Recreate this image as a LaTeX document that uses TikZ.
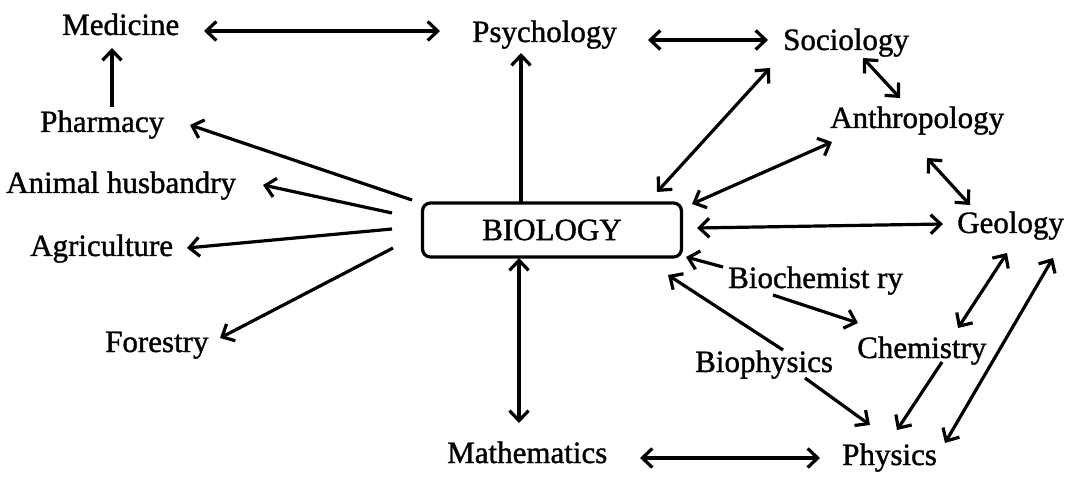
\documentclass[tikz,border=0pt]{standalone}
\usepackage{fontspec}
\setmainfont{Liberation Serif}
\newfontfamily\inkfont{Liberation Serif}[FakeBold=1.2]
\usetikzlibrary{arrows.meta}
\begin{document}
\begin{tikzpicture}[x=1pt,y=-1pt,
  lbl/.style={inner sep=0pt, anchor=base west, font=\inkfont\fontsize{31}{36}\selectfont},
  con/.style={line width=3.2pt, -{Straight Barb[length=10pt,width=19pt]}},
  dcon/.style={line width=3.2pt, {Straight Barb[length=10pt,width=19pt]}-{Straight Barb[length=10pt,width=19pt]}},
  boxnode/.style={draw, line width=3.2pt, rounded corners=8pt, minimum width=259pt,
    minimum height=54pt, inner sep=0pt, font=\inkfont\fontsize{31}{36}\selectfont}]
\useasboundingbox[fill=white] (0,0) rectangle (1073,478);
% nodes
\node[lbl] (med)   at (62,35)   {Medicine};
\node[lbl] (psy)   at (472,42)  {Psychology};
\node[lbl] (soc)   at (783,50)  {Sociology};
\node[lbl] (anth)  at (830,128) {Anthropology};
\node[lbl] (phar)  at (40,132)  {Pharmacy};
\node[lbl] (anim)  at (6,193)   {Animal husbandry};
\node[lbl] (agri)  at (30,256)  {Agriculture};
\node[lbl] (fore)  at (105,352) {Forestry};
\node[lbl] (geo)   at (957,233) {Geology};
\node[lbl] (bchem) at (728,288) {Biochemist ry};
\node[lbl] (chem)  at (857,358) {Chemistry};
\node[lbl] (bphys) at (695,372) {Biophysics};
\node[lbl] (math)  at (447,463) {Mathematics};
\node[lbl] (phys)  at (842,465) {Physics};
\node[boxnode] (bio) at (552,230) {BIOLOGY};
% connectors
\draw[dcon] ([shift={(142,-4)}]med.base west) -- ([shift={(-32,-11)}]psy.base west);
\draw[con]  ([shift={(72,-25)}]phar.base west) -- ([shift={(50,13)}]med.base west);
\draw[dcon] ([shift={(176,-2)}]psy.base west) -- ([shift={(-15,-10)}]soc.base west);
\draw[con]  ([shift={(-31,-27)}]bio.center) -- ([shift={(49,11)}]psy.base west);
\draw[con]  ([shift={(-140,-30)}]bio.center) -- ([shift={(150,-7)}]phar.base west);
\draw[con]  ([shift={(-160,-17)}]bio.center) -- ([shift={(257,-8)}]anim.base west);
\draw[con]  ([shift={(-160,-1)}]bio.center) -- ([shift={(157,-8)}]agri.base west);
\draw[con]  ([shift={(-159,18)}]bio.center) -- ([shift={(115,-14)}]fore.base west);
\draw[dcon] ([shift={(-33,28)}]bio.center) -- ([shift={(72,-40)}]math.base west);
\draw[dcon] ([shift={(105,-38)}]bio.center) -- ([shift={(-13,18)}]soc.base west);
\draw[dcon] ([shift={(140,-26)}]bio.center) -- ([shift={(2,14)}]anth.base west);
\draw[dcon] ([shift={(145,-2)}]bio.center) -- ([shift={(-14,-9)}]geo.base west);
\draw[dcon] ([shift={(80,8)}]soc.base west) -- ([shift={(70,-30)}]anth.base west);
\draw[dcon] ([shift={(97,30)}]anth.base west) -- ([shift={(13,-28)}]geo.base west);
\draw[con]  ([shift={(-5,-21)}]bchem.base west) -- ([shift={(134,27)}]bio.center);
\draw[con]  ([shift={(88,-22)}]bphys.base west) -- ([shift={(116,45)}]bio.center);
\draw[con]  ([shift={(45,7)}]bchem.base west) -- ([shift={(1,-35)}]chem.base west);
\draw[con]  ([shift={(110,6)}]bphys.base west) -- ([shift={(28,-40)}]phys.base west);
\draw[con]  ([shift={(85,4)}]chem.base west) -- ([shift={(55,-35)}]phys.base west);
\draw[dcon] ([shift={(50,20)}]geo.base west) -- ([shift={(101,-30)}]chem.base west);
\draw[dcon] ([shift={(96,25)}]geo.base west) -- ([shift={(103,-22)}]phys.base west);
\draw[dcon] ([shift={(193,-5)}]math.base west) -- ([shift={(-22,-7)}]phys.base west);
\end{tikzpicture}
\end{document}
